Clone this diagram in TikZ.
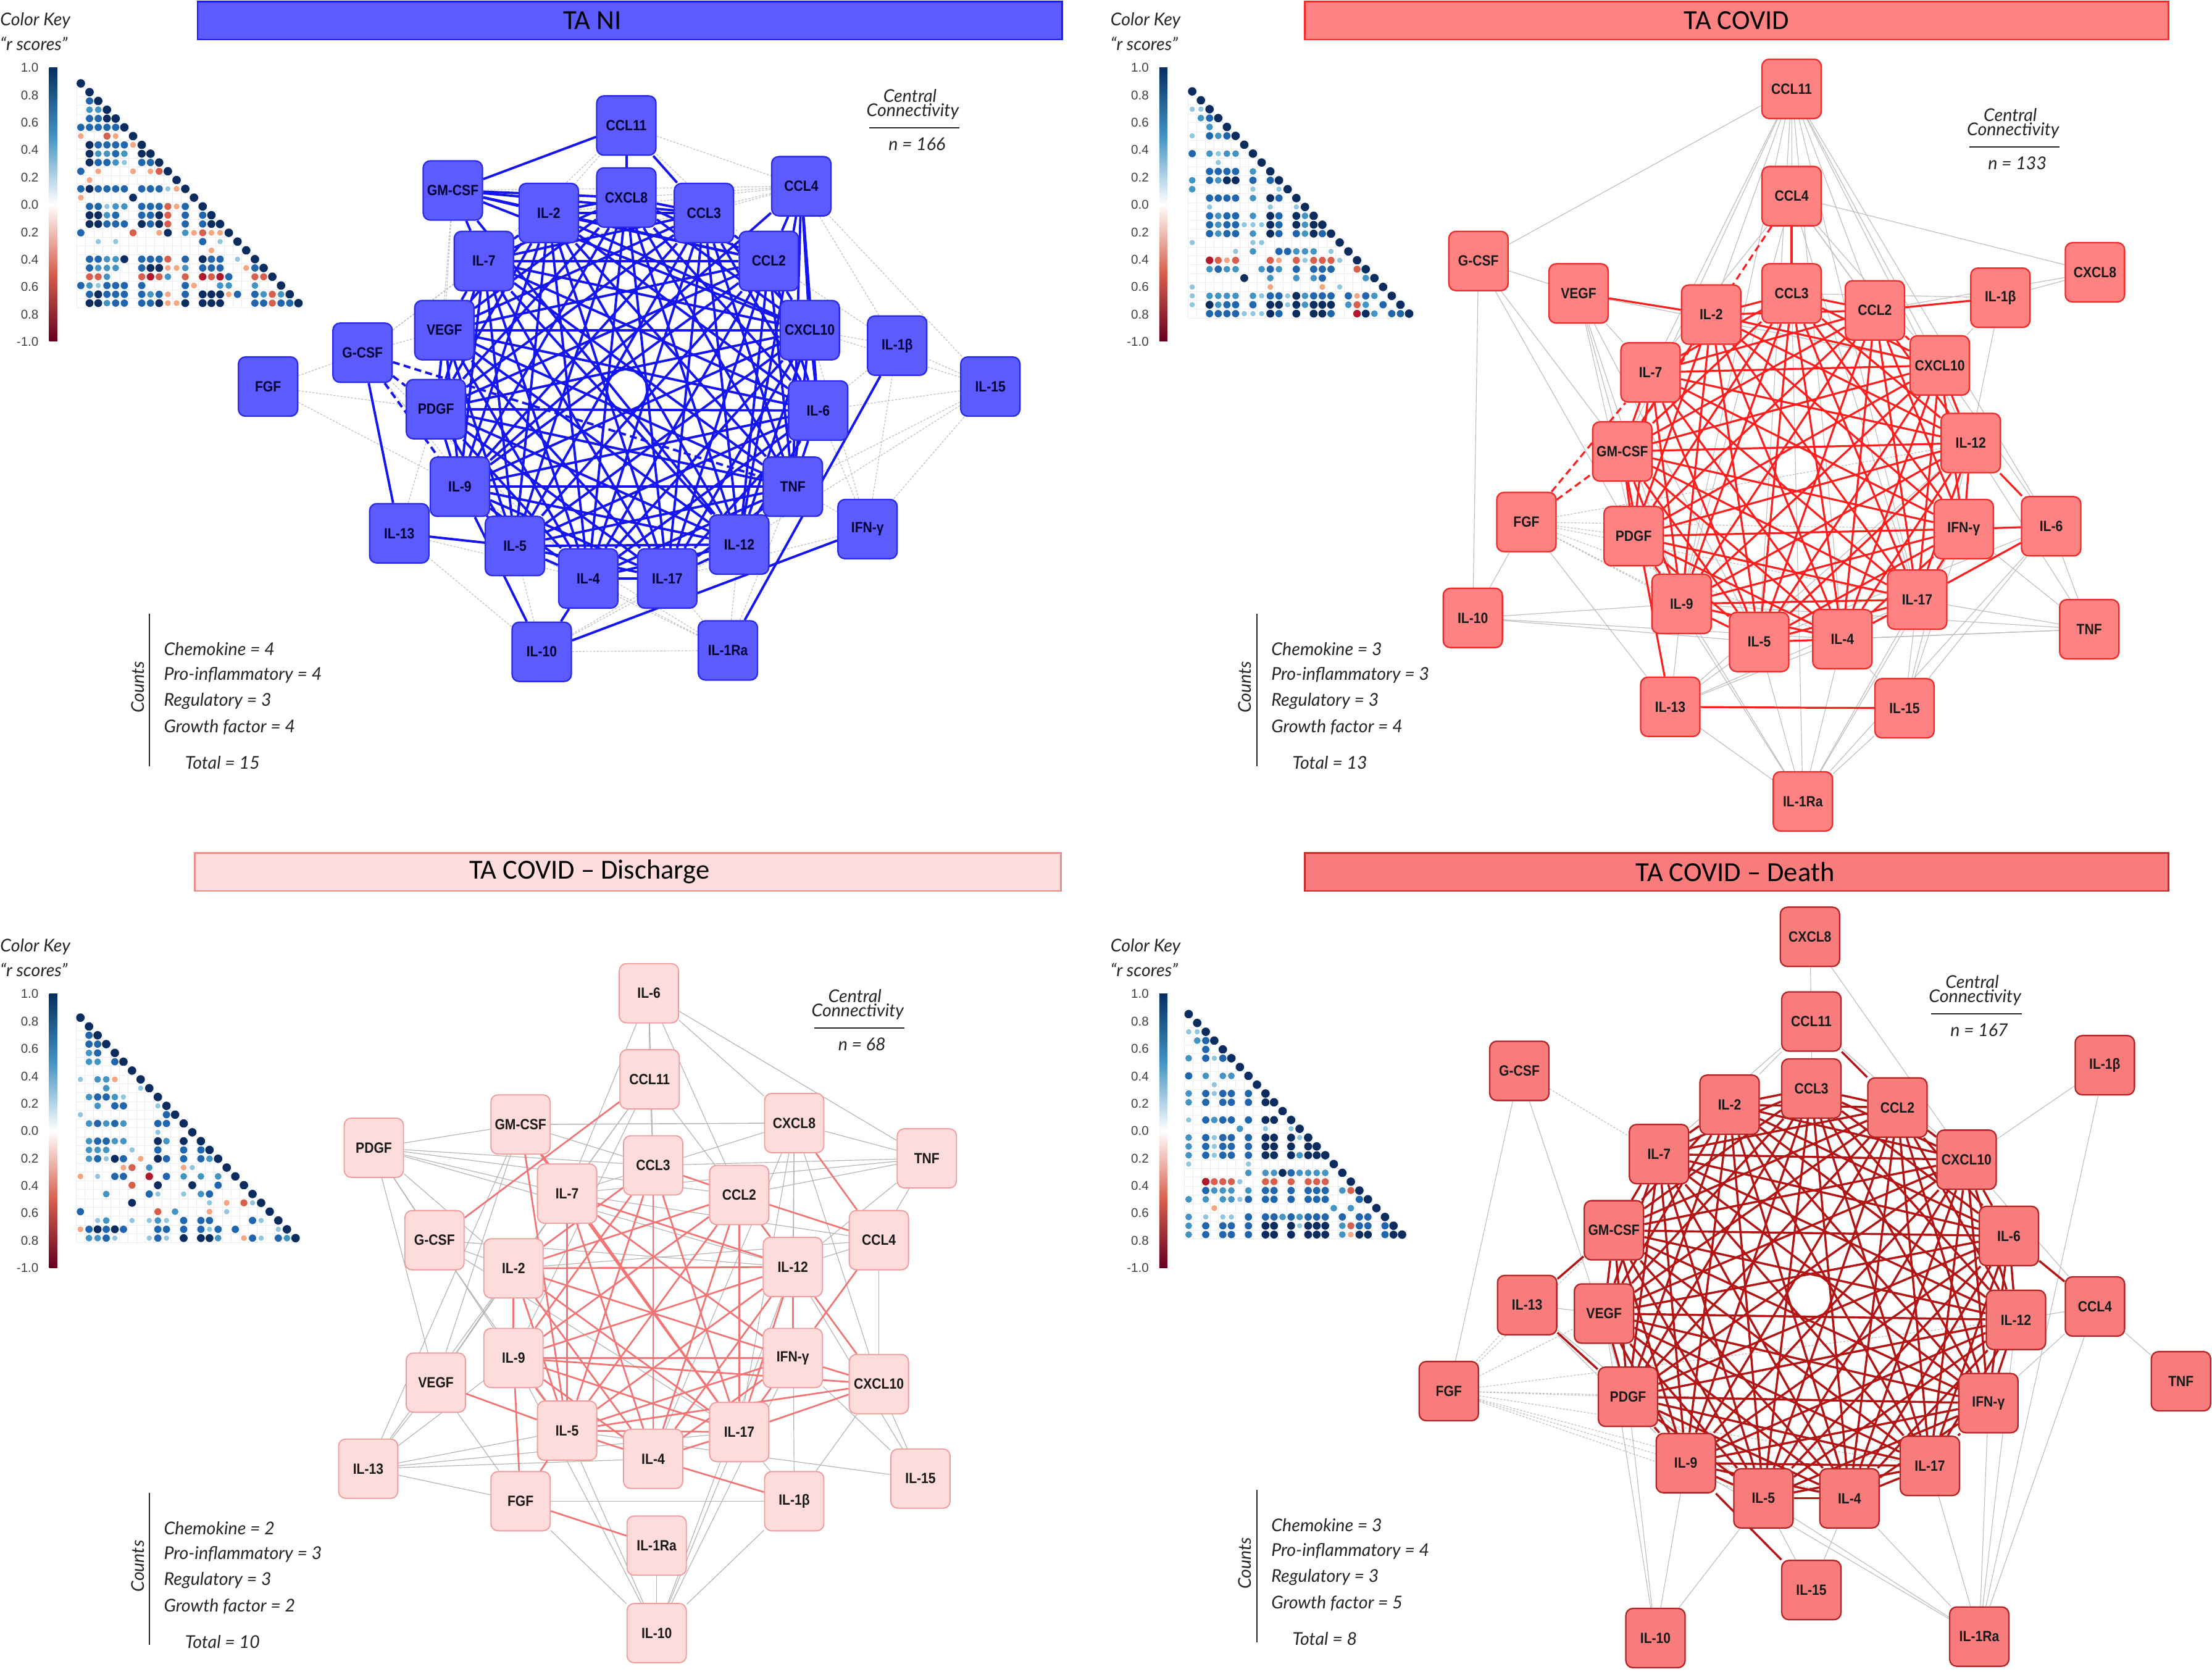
\documentclass[tikz,border=0pt]{standalone}
\usepackage{fontspec}
\setmainfont{Liberation Sans}
\newfontfamily\annfont{Lato}
\newfontfamily\nodefont{Liberation Sans}[FakeStretch=0.88]
\newfontfamily\titlefont{Carlito}
\pgfdeclarelayer{bgl}
\pgfdeclarelayer{greyl}
\pgfdeclarelayer{coll}
\pgfsetlayers{bgl,greyl,coll,main}
\definecolor{niFill}{HTML}{5B5BFF}
\definecolor{niDraw}{HTML}{2A2AE8}
\definecolor{niEdge}{HTML}{1515F2}
\definecolor{niBar}{HTML}{1A1AFF}
\definecolor{cvFill}{HTML}{FF8282}
\definecolor{cvDraw}{HTML}{EE2A2A}
\definecolor{cvEdge}{HTML}{FF1E1E}
\definecolor{cvBar}{HTML}{FF2B2B}
\definecolor{dsFill}{HTML}{FFDCDC}
\definecolor{dsDraw}{HTML}{F29A9A}
\definecolor{dsEdge}{HTML}{F27474}
\definecolor{dsBar}{HTML}{EE8C8C}
\definecolor{dtFill}{HTML}{F87C7C}
\definecolor{dtDraw}{HTML}{B52424}
\definecolor{dtEdge}{HTML}{B31414}
\definecolor{dtBar}{HTML}{C62A2A}
\definecolor{greyE}{HTML}{BDBDBD}
\definecolor{kTop}{HTML}{053061}
\definecolor{kBot}{HTML}{67001F}
\definecolor{cD}{HTML}{0A2C5E}
\definecolor{cB}{HTML}{2166AC}
\definecolor{cM}{HTML}{4393C3}
\definecolor{cL}{HTML}{92C5DE}
\definecolor{cO}{HTML}{F4A582}
\definecolor{cR}{HTML}{D6604D}
\definecolor{cK}{HTML}{B2182B}
\def\radD{2.8}\def\radB{2.6}\def\radM{2.4}\def\radL{1.9}\def\radO{2.1}\def\radR{2.5}\def\radK{2.7}
\makeatletter
\newcommand\mrow[2]{%
  \def\mr@row{#1}\def\mr@col{0}%
  \mr@next#2\@nil
  \pgfmathsetmacro\mr@x{\kx+\mr@row*\kdx}%
  \pgfmathsetmacro\mr@y{\ky+\mr@row*\kdy}%
  \draw[cellgrid] (\mr@x-0.5*\kdx,\mr@y-0.5*\kdy) rectangle ++(\kdx,\kdy);%
  \fill[cD] (\mr@x,\mr@y) circle[radius=3.0];}
\def\mr@next#1{\ifx#1\@nil\expandafter\@gobble\else\expandafter\@firstofone\fi{\mr@dot{#1}\mr@next}}
\def\mr@dot#1{%
  \pgfmathsetmacro\mr@x{\kx+\mr@col*\kdx}%
  \pgfmathsetmacro\mr@y{\ky+\mr@row*\kdy}%
  \draw[cellgrid] (\mr@x-0.5*\kdx,\mr@y-0.5*\kdy) rectangle ++(\kdx,\kdy);%
  \if#1.\else\fill[c#1] (\mr@x,\mr@y) circle[radius=\csname rad#1\endcsname];\fi
  \pgfmathtruncatemacro\mr@col{\mr@col+1}}
\makeatother
\tikzset{
 cyto/.style={rectangle, rounded corners=5pt, minimum width=42pt, minimum height=42pt, inner sep=0pt, line width=1pt, font=\nodefont\fontsize{10.5}{11}\selectfont\bfseries},
 nA/.style={cyto, fill=niFill, draw=niDraw, text=black!80!blue},
 nB/.style={cyto, fill=cvFill, draw=cvDraw, text=black!90},
 nC/.style={cyto, fill=dsFill, draw=dsDraw, line width=0.8pt, text=black!90},
 nD/.style={cyto, fill=dtFill, draw=dtDraw, text=black!90},
 eA/.style={draw=niEdge, line width=1.7pt},
 eB/.style={draw=cvEdge, line width=1.4pt},
 eC/.style={draw=dsEdge, line width=1.2pt},
 eD/.style={draw=dtEdge, line width=1.5pt},
 gE/.style={draw=greyE, line width=0.5pt},
 gdot/.style={draw=greyE, line width=0.5pt, dash pattern=on 1.5pt off 1pt},
 titlebar/.style={rectangle, minimum height=27pt, inner sep=0pt, line width=1.2pt},
 titletxt/.style={inner sep=0pt, font=\titlefont\fontsize{19.5}{21}\selectfont},
 ann/.style={font=\annfont\itshape\fontsize{12.5}{14}\selectfont, inner sep=0pt, text=black!85},
 annL/.style={ann, anchor=west},
 keytxt/.style={font=\annfont\itshape\fontsize{12.5}{14}\selectfont, inner sep=0pt, anchor=west, text=black!85},
 keynum/.style={font=\fontsize{9}{10}\selectfont, text=black!75, inner sep=0pt, anchor=east},
 cellgrid/.style={draw=black!7, line width=0.3pt},
}
\newcommand\ckey[7]{%
  \begin{scope}[shift={(#2,#3)}]
    \node[keytxt] (#1kt1) at (0,14.6) {Color Key};
    \node[keytxt] (#1kt2) at (0,30.8) {“r scores”};
    \shade[top color=kTop, bottom color=white, middle color=cM] (34.8,47.8) rectangle (40.6,145);
    \shade[top color=white, bottom color=kBot, middle color=cR] (34.8,145) rectangle (40.6,242);
    \foreach \t [count=\k from 0] in {1.0,0.8,0.6,0.4,0.2,0.0,0.2,0.4,0.6,0.8,-1.0}
      \node[keynum] (#1kn\k) at (27.5,{48+19.42*\k}) {\t};
  \end{scope}
  \def\kx{#4}\def\ky{#5}\def\kdx{#6}\def\kdy{#7}}
\newcommand\countsblock[8]{%
  \begin{scope}[shift={(#2,#3)}]
    \coordinate (#1ct) at (106,435);
    \coordinate (#1cb) at (106,543);
    \draw[line width=1pt, black!85] (#1ct) -- (#1cb);
    \node[ann, rotate=90] (#1cnt) at (97.5,487) {Counts};
    \node[annL] (#1c1) at (116,460) {Chemokine = #4};
    \node[annL] (#1c2) at (116,478.5) {Pro-inflammatory = #5};
    \node[annL] (#1c3) at (116,497) {Regulatory = #6};
    \node[annL] (#1c4) at (116,515.5) {Growth factor = #7};
    \node[annL] (#1c5) at (131,540.5) {Total = #8};
  \end{scope}}
\newcommand\centralc[4]{%
  \node[ann] (#1cc1) at (#2,#3) {Central};
  \node[ann] (#1cc2) at ({#2+2},{#3+11}) {Connectivity};
  \coordinate (#1ccl) at ({#2-29},{#3+22.5});
  \coordinate (#1ccr) at ({#2+35},{#3+22.5});
  \draw[line width=1pt, black!85] (#1ccl) -- (#1ccr);
  \node[ann] (#1cc3) at ({#2+5},{#3+34}) {n = #4};}
\begin{document}
\begin{tikzpicture}[x=1pt,y=-1pt]
\begin{pgfonlayer}{bgl}
\fill[white] (0,0) rectangle (1568,1185);
\end{pgfonlayer}
\useasboundingbox (0,0) rectangle (1568,1185);

% ---------- title bars
\node[titlebar, fill=niFill, draw=niBar, minimum width=613pt] (tA) at (446.5,14.5) {};
\node[titlebar, fill=cvFill, draw=cvBar, minimum width=612pt] (tB) at (1231,14.5) {};
\node[titlebar, fill=dsFill, draw=dsBar, minimum width=614pt] (tC) at (445,618) {};
\node[titlebar, fill=dtFill, draw=dtBar, minimum width=612pt] (tD) at (1231,618) {};
\node[titletxt] (tAt) at (420,14.5) {TA NI};
\node[titletxt] (tBt) at (1231,14.5) {TA COVID};
\node[titletxt] (tCt) at (418,618) {TA COVID – Discharge};
\node[titletxt] (tDt) at (1230,618) {TA COVID – Death};

% ---------- colour keys
\ckey{A}{0}{0}{57.3}{59.1}{6.17}{6.23}
\mrow{0}{}\mrow{1}{.}\mrow{2}{.B}\mrow{3}{.MM}\mrow{4}{.BBD}\mrow{5}{BBBBB}
\mrow{6}{O..RO.}\mrow{7}{.DBBBBO}\mrow{8}{.DMMBM.D}\mrow{9}{.DBBML.BB}
\mrow{10}{B.O...O.OR}\mrow{11}{.O.........}\mrow{12}{BDBBBB.BBBLO}
\mrow{13}{O.....D......}\mrow{14}{.BBLMM.BBBROB.}\mrow{15}{.DDMB..BBDR.B.B}
\mrow{16}{.DDBBB.DBDR.B.BD}\mrow{17}{B.....R..OD.MOROO}\mrow{18}{..L.L.........B.L.}
\mrow{19}{...............O...}\mrow{20}{.BBMMD.BBBR.B.DBB.L.}
\mrow{21}{.BMMM..BDDOOM.BBB..OB}\mrow{22}{.RRM...RKRM.R.KRKB..RR}
\mrow{23}{BMLBBB.B....BO..MM..M..}\mrow{24}{.BDBBB.BMBO.B.DDDOB.BMRM}
\mrow{25}{.DDMBB.BBDOOD.DDD...BBRBB}

\ckey{B}{787}{0}{845.1}{64.8}{6.15}{6.3}
\mrow{0}{}\mrow{1}{.}\mrow{2}{LL}\mrow{3}{.MB}\mrow{4}{..M.}\mrow{5}{L.BMB}
\mrow{6}{......}\mrow{7}{B.MLMM.}\mrow{8}{...L....}\mrow{9}{..BBBB.M.}
\mrow{10}{M.BMDD.B.B}\mrow{11}{M......L..L}\mrow{12}{..BBBB.M.DB.}
\mrow{13}{..L......L..L}\mrow{14}{..BMBB.M.DB.DM}\mrow{15}{..BMBBLLLDB.DMD}
\mrow{16}{..BMBB.M.DB.BMDB}\mrow{17}{L......LL........}\mrow{18}{.....L.M..BBMMM.L.}
\mrow{19}{..KROR...RO.RLRRRL.}\mrow{20}{..MBMM..MBM.B.BBB..R}
\mrow{21}{......D..M..M.MB....M}\mrow{22}{L........O.....O.L....}
\mrow{23}{L.MMMM.MLBBLDMBBB.BOBM.}\mrow{24}{L.DMBB.B.DDLDMDDD.MRM.B.}
\mrow{25}{..BBBBLLLDB.D.DDB..KDM.BB}

\ckey{C}{0}{656.5}{57}{721.3}{6.1}{6.25}
\mrow{0}{}\mrow{1}{.}\mrow{2}{.B}\mrow{3}{.BB}\mrow{4}{.MB.}\mrow{5}{.MM.B}
\mrow{6}{......}\mrow{7}{L.MMO..}\mrow{8}{...M...L}\mrow{9}{.MBBML...}
\mrow{10}{..M.BB...L}\mrow{11}{L.........B}\mrow{12}{.MBMBM...BB.}
\mrow{13}{.........L...}\mrow{14}{.MBBMM...DM.D.}\mrow{15}{.MMM..L..B..B.B}
\mrow{16}{.MBLDB.O.DB.B.BM}\mrow{17}{.....OR.M...OL...}\mrow{18}{O.L.BB..K.B.M.M.M.}
\mrow{19}{......R..D...D..B..}\mrow{20}{...M....BL..L.MB....}
\mrow{21}{......D........L.O.RL}\mrow{22}{B........R.M...O.L....}
\mrow{23}{..LM..L.LML.B.BB....BL.}\mrow{24}{OBDBDB...BB.B.BLB.B....L}
\mrow{25}{.MMBL...LBL.D.DDM..OBL.BM}

\ckey{D}{787}{656.5}{842.6}{718.8}{6.05}{6.25}
\mrow{0}{}\mrow{1}{.}\mrow{2}{LL}\mrow{3}{.MB}\mrow{4}{..B.}\mrow{5}{M.BLB}
\mrow{6}{......}\mrow{7}{B.M.MM.}\mrow{8}{...L....}\mrow{9}{M.BLBB.B.}
\mrow{10}{M.B.BB.B.D}\mrow{11}{...........}\mrow{12}{L.BMBB.B.DD.}
\mrow{13}{......M..L..L}\mrow{14}{M.BLBB.B.DD.DL}\mrow{15}{M.BLBB.B.DD.D.D}
\mrow{16}{M.BLBB.B.DD.DMDD}\mrow{17}{L......L.........}\mrow{18}{.......M.MMDBMMMM.}
\mrow{19}{..KRRRL..RR.R.RRR..}\mrow{20}{..BMMM.M.BB.B.BBB.MR}
\mrow{21}{M.M.MMLB.BB.B.BBB...B}\mrow{22}{...O.............M.M..}
\mrow{23}{M.L.LL.B.BBMBMBBB.B.BB.}\mrow{24}{M.B.BB.B.DD.DLDDD.MRBB.B}
\mrow{25}{M.B.BB.B.DD.D.DDD.MODD.BD}

% ---------- counts and central connectivity
\countsblock{A}{0}{0}{4}{4}{3}{4}{15}
\countsblock{B}{785}{0}{3}{3}{3}{4}{13}
\countsblock{C}{0}{623}{2}{3}{3}{2}{10}
\countsblock{D}{785}{621}{3}{4}{3}{5}{8}
\centralc{A}{645}{68}{166}
\centralc{B}{1425}{81.5}{133}
\centralc{C}{606}{706}{68}
\centralc{D}{1398}{696}{167}

% ================= PANEL A : TA NI
\node[nA] (aCCL11) at (444,89) {CCL11};
\node[nA] (aGMCSF) at (321,135) {GM-CSF};
\node[nA] (aIL2) at (389,151) {IL-2};
\node[nA] (aCXCL8) at (444,140) {CXCL8};
\node[nA] (aCCL3) at (499,151) {CCL3};
\node[nA] (aCCL4) at (568,132) {CCL4};
\node[nA] (aIL7) at (343,185) {IL-7};
\node[nA] (aCCL2) at (545,185) {CCL2};
\node[nA] (aVEGF) at (315,234) {VEGF};
\node[nA] (aCXCL10) at (574,234) {CXCL10};
\node[nA] (aGCSF) at (257,250) {G-CSF};
\node[nA] (aIL1b) at (636,245) {IL-1β};
\node[nA] (aFGF) at (190,274) {FGF};
\node[nA] (aIL15) at (702,274) {IL-15};
\node[nA] (aPDGF) at (309,290) {PDGF};
\node[nA] (aIL6) at (580,291) {IL-6};
\node[nA] (aIL9) at (326,345) {IL-9};
\node[nA] (aTNF) at (562,345) {TNF};
\node[nA] (aIL13) at (283,378) {IL-13};
\node[nA] (aIFNg) at (615,375) {IFN-γ};
\node[nA] (aIL5) at (365,387) {IL-5};
\node[nA] (aIL12) at (524,386) {IL-12};
\node[nA] (aIL4) at (417,410) {IL-4};
\node[nA] (aIL17) at (473,410) {IL-17};
\node[nA] (aIL10) at (384,462) {IL-10};
\node[nA] (aIL1Ra) at (516,461) {IL-1Ra};

% ================= PANEL B : TA COVID
\node[nB] (bCCL11) at (1270,63) {CCL11};
\node[nB] (bCCL4) at (1270,139) {CCL4};
\node[nB] (bGCSF) at (1048,185) {G-CSF};
\node[nB] (bVEGF) at (1119,208) {VEGF};
\node[nB] (bCCL3) at (1270,208) {CCL3};
\node[nB] (bIL2) at (1213,223) {IL-2};
\node[nB] (bCCL2) at (1329,220) {CCL2};
\node[nB] (bIL1b) at (1418,211) {IL-1β};
\node[nB] (bCXCL8) at (1485,193) {CXCL8};
\node[nB] (bIL7) at (1170,264) {IL-7};
\node[nB] (bCXCL10) at (1375,259) {CXCL10};
\node[nB] (bGMCSF) at (1150,320) {GM-CSF};
\node[nB] (bIL12) at (1397,314) {IL-12};
\node[nB] (bFGF) at (1082,370) {FGF};
\node[nB] (bPDGF) at (1158,380) {PDGF};
\node[nB] (bIFNg) at (1392,375) {IFN-γ};
\node[nB] (bIL6) at (1454,373) {IL-6};
\node[nB] (bIL10) at (1044,438) {IL-10};
\node[nB] (bIL9) at (1192,428) {IL-9};
\node[nB] (bIL5) at (1247,455) {IL-5};
\node[nB] (bIL4) at (1306,453) {IL-4};
\node[nB] (bIL17) at (1359,425) {IL-17};
\node[nB] (bTNF) at (1481,446) {TNF};
\node[nB] (bIL13) at (1184,501) {IL-13};
\node[nB] (bIL15) at (1350,502) {IL-15};
\node[nB] (bIL1Ra) at (1278,568) {IL-1Ra};

% ================= PANEL C : Discharge
\node[nC] (cIL6) at (460,704) {IL-6};
\node[nC] (cCCL11) at (460.5,765) {CCL11};
\node[nC] (cGMCSF) at (369,797) {GM-CSF};
\node[nC] (cCXCL8) at (563,796) {CXCL8};
\node[nC] (cPDGF) at (265,813.5) {PDGF};
\node[nC] (cTNF) at (657,821) {TNF};
\node[nC] (cCCL3) at (463,826) {CCL3};
\node[nC] (cIL7) at (402,846) {IL-7};
\node[nC] (cCCL2) at (524,847) {CCL2};
\node[nC] (cGCSF) at (308,879) {G-CSF};
\node[nC] (cCCL4) at (623,879) {CCL4};
\node[nC] (cIL2) at (364,899) {IL-2};
\node[nC] (cIL12) at (562,898) {IL-12};
\node[nC] (cIL9) at (364,962.5) {IL-9};
\node[nC] (cIFNg) at (562,962.5) {IFN-γ};
\node[nC] (cVEGF) at (309,980) {VEGF};
\node[nC] (cCXCL10) at (623,981) {CXCL10};
\node[nC] (cIL5) at (402,1014) {IL-5};
\node[nC] (cIL17) at (524,1015) {IL-17};
\node[nC] (cIL4) at (463,1034) {IL-4};
\node[nC] (cIL13) at (261,1041) {IL-13};
\node[nC] (cIL15) at (652.5,1048) {IL-15};
\node[nC] (cFGF) at (369,1064) {FGF};
\node[nC] (cIL1b) at (563,1064) {IL-1β};
\node[nC] (cIL1Ra) at (465.5,1095.5) {IL-1Ra};
\node[nC] (cIL10) at (465.5,1157.5) {IL-10};

% ================= PANEL D : Death
\node[nD] (dCXCL8) at (1283,664) {CXCL8};
\node[nD] (dCCL11) at (1284,724) {CCL11};
\node[nD] (dGCSF) at (1077,759) {G-CSF};
\node[nD] (dIL1b) at (1492,755) {IL-1β};
\node[nD] (dCCL3) at (1284,771.5) {CCL3};
\node[nD] (dIL2) at (1226,783) {IL-2};
\node[nD] (dCCL2) at (1345,785) {CCL2};
\node[nD] (dIL7) at (1176,818) {IL-7};
\node[nD] (dCXCL10) at (1394,822) {CXCL10};
\node[nD] (dGMCSF) at (1144,872) {GM-CSF};
\node[nD] (dIL6) at (1424,876) {IL-6};
\node[nD] (dIL13) at (1082.5,925) {IL-13};
\node[nD] (dVEGF) at (1137,931) {VEGF};
\node[nD] (dCCL4) at (1485,926) {CCL4};
\node[nD] (dIL12) at (1429,935.5) {IL-12};
\node[nD] (dTNF) at (1546,979) {TNF};
\node[nD] (dFGF) at (1027,986) {FGF};
\node[nD] (dPDGF) at (1154,990) {PDGF};
\node[nD] (dIFNg) at (1409.5,994.5) {IFN-γ};
\node[nD] (dIL9) at (1195,1037) {IL-9};
\node[nD] (dIL17) at (1368,1039) {IL-17};
\node[nD] (dIL5) at (1250,1062) {IL-5};
\node[nD] (dIL4) at (1311,1062) {IL-4};
\node[nD] (dIL15) at (1284,1127) {IL-15};
\node[nD] (dIL10) at (1173.5,1161) {IL-10};
\node[nD] (dIL1Ra) at (1403,1160) {IL-1Ra};

% ================= coloured edges
\def\coreA{aCXCL8,aCCL3,aCCL2,aCXCL10,aIL6,aTNF,aIL12,aIL17,aIL4,aIL5,aIL9,aPDGF,aVEGF,aIL7,aIL2}
\def\coreB{bCCL3,bCCL2,bCXCL10,bIL12,bIFNg,bIL17,bIL4,bIL5,bIL9,bPDGF,bGMCSF,bIL7,bIL2}
\def\coreD{dCCL3,dCCL2,dCXCL10,dIL6,dIL12,dIFNg,dIL17,dIL4,dIL5,dIL9,dPDGF,dVEGF,dGMCSF,dIL7,dIL2}
\begin{pgfonlayer}{coll}
\foreach \u [count=\i] in \coreA {\foreach \v [count=\j] in \coreA {\ifnum\j>\i \draw[eA] (\u) -- (\v);\fi}}
\foreach \u/\v in {aCCL11/aGMCSF,aCCL11/aCXCL8,aCCL11/aCCL3,aIL13/aGCSF,aIL13/aIL5,aIL10/aIL9,aIL10/aIL4,aIL10/aIFNg,aIL1Ra/aIL1b,
  aGMCSF/aIL2,aGMCSF/aCXCL8,aGMCSF/aCCL3,aGMCSF/aCCL2,aGMCSF/aIL7,aGMCSF/aCXCL10,aGMCSF/aIL12,
  aCCL4/aCCL2,aCCL4/aCXCL10,aCCL4/aIL6,aCCL4/aTNF,aCCL4/aIL12,aCCL4/aIL9}
  \draw[eA] (\u) -- (\v);
\foreach \u/\v in {aGCSF/aPDGF,aGCSF/aIL9,aGCSF/aTNF}
  \draw[eA, dash pattern=on 5pt off 3pt] (\u) -- (\v);

\foreach \u [count=\i] in \coreB {\foreach \v [count=\j] in \coreB {\ifnum\j>\i \draw[eB] (\u) -- (\v);\fi}}
\foreach \u/\v in {bCCL4/bCCL3,bVEGF/bIL2,bCCL2/bIL1b,bIL6/bIFNg,bIL6/bIL12,bIL6/bIL17,bIL13/bIL15,bIL13/bGMCSF}
  \draw[eB] (\u) -- (\v);
\foreach \u/\v in {bCCL4/bGMCSF,bFGF/bIL7,bFGF/bGMCSF}
  \draw[eB, dash pattern=on 5pt off 3pt] (\u) -- (\v);

\foreach \u/\v in {cCCL11/cGCSF,cGMCSF/cIL5,cGMCSF/cIL17,cGMCSF/cIL7,cIL7/cIL17,cIL7/cIL4,cIL7/cIL5,cIL7/cIL12,cIL7/cIFNg,
  cCCL3/cIL4,cCCL3/cCCL2,cCCL3/cIL17,cCCL3/cIL9,cCCL3/cIL2,cCCL3/cIL5,cCCL2/cIL2,cCCL2/cIL9,cCCL2/cIL17,cCCL2/cIL4,
  cCCL2/cCCL4,cCCL2/cIL12,cCCL2/cIL5,cCXCL8/cCCL4,cCCL4/cIFNg,cIL12/cCXCL10,cIL12/cIL2,cIL12/cIL9,cIL12/cIL5,cIL12/cIL4,
  cIL12/cIL17,cIL12/cIFNg,cIFNg/cIL2,cIFNg/cIL9,cIFNg/cIL5,cIFNg/cIL4,cIFNg/cIL17,cIFNg/cCXCL10,cCXCL10/cIL9,cCXCL10/cIL17,
  cCXCL10/cIL5,cIL2/cIL9,cIL2/cIL17,cIL2/cIL4,cIL2/cIL5,cIL9/cIL5,cIL9/cIL17,cIL9/cIL4,cIL9/cFGF,cVEGF/cIL5,cIL5/cFGF,
  cIL5/cIL4,cIL5/cIL17,cIL4/cIL17,cIL4/cIL1b,cFGF/cIL1Ra}
  \draw[eC] (\u) -- (\v);

\foreach \u [count=\i] in \coreD {\foreach \v [count=\j] in \coreD {\ifnum\j>\i \draw[eD] (\u) -- (\v);\fi}}
\foreach \u/\v in {dCCL11/dCCL2,dIL13/dGMCSF,dIL13/dPDGF,dCCL4/dIL6,dIL15/dIL9}
  \draw[eD] (\u) -- (\v);
\end{pgfonlayer}

% ================= grey edges
\begin{pgfonlayer}{greyl}
\foreach \u/\v in {aFGF/aGCSF,aFGF/aIL9,aFGF/aPDGF,aIL15/aIL1b,aIL15/aCXCL10,aIL15/aIL6,aIL15/aTNF,aIL15/aIL12,aIL15/aIFNg,
  aIL15/aCCL4,aIFNg/aCXCL10,aIFNg/aIL6,aIFNg/aTNF,aIFNg/aIL1b,aIFNg/aIL17,aIL1b/aCCL4,aIL1b/aCCL2,aIL1b/aIL6,aIL1b/aCXCL10,
  aCCL11/aCCL2,aCCL11/aCCL4,aCCL11/aIL7,aCCL11/aIL2,aGCSF/aVEGF,aGCSF/aIL7,aGCSF/aIL2,aGCSF/aIL5,aGCSF/aIL4,aIL13/aIL9,
  aIL13/aPDGF,aIL13/aIL4,aIL10/aIL5,aIL10/aIL13,aIL10/aIL17,aIL10/aIL12,aIL10/aIL1Ra,aIL1Ra/aIL4,aIL1Ra/aIL17,aIL1Ra/aIL12,
  aIL1Ra/aIL5,aIL1Ra/aTNF,aIL1Ra/aIL9,aCCL4/aCXCL8,aGMCSF/aCCL4,aCCL4/aCCL3,aCCL4/aIL2,aVEGF/aCCL2,aPDGF/aIL6,aIL9/aTNF,
  aGMCSF/aVEGF,aGMCSF/aPDGF,aCCL4/aIL7}
  \draw[gdot] (\u) -- (\v);
\foreach \u/\v in {bCCL11/bGCSF,bCCL11/bIL7,bCCL11/bIL2,bCCL11/bCCL3,bCCL11/bCCL2,bCCL11/bCXCL10,bCCL11/bIL12,bCCL11/bIL6,
  bCCL11/bIL9,bCCL11/bIL5,bCCL11/bIL4,bCCL11/bIL17,bCCL11/bGMCSF,bCCL4/bCXCL8,bCCL4/bCCL2,bCCL4/bCXCL10,bCCL4/bIL7,
  bCCL4/bIL12,bCCL4/bIL17,bCCL4/bIL9,bGCSF/bIL10,bGCSF/bVEGF,bGCSF/bGMCSF,bGCSF/bPDGF,bFGF/bIL10,bFGF/bIL13,
  bIL10/bIL9,bIL10/bIL5,bIL10/bIL4,bVEGF/bIL9,bVEGF/bIL5,bVEGF/bIL7,bVEGF/bGMCSF,bVEGF/bPDGF,bVEGF/bCXCL10,bTNF/bIL6,
  bTNF/bIL17,bTNF/bIL4,bTNF/bIFNg,bTNF/bIL12,bTNF/bIL5,bTNF/bIL9,bIL1Ra/bIL13,bIL1Ra/bIL9,bIL1Ra/bIL5,bIL1Ra/bIL4,
  bIL1Ra/bIL17,bIL1Ra/bIL15,bIL1Ra/bPDGF,bIL1Ra/bIFNg,bIL1Ra/bCCL3,bIL1Ra/bIL6,bIL15/bIL6,bIL15/bIL4,bIL15/bIL17,
  bIL15/bIFNg,bIL15/bIL12,bIL13/bIL5,bIL13/bIL4,bIL13/bIL12,bIL13/bIL9,bIL13/bIL17,bCXCL8/bIL1b,bCXCL8/bCCL2,
  bIL1b/bCXCL10,bIL1b/bIL12,bIL1b/bCCL3,bIL6/bCXCL10,bIL6/bIL4,bIL6/bIL5}
  \draw[gE] (\u) -- (\v);
\foreach \u/\v in {bFGF/bPDGF,bFGF/bIL9,bFGF/bIL5,bFGF/bIL12,bFGF/bIFNg,bFGF/bIL17,bFGF/bIL4}
  \draw[gdot] (\u) -- (\v);
\foreach \u/\v in {cPDGF/cGMCSF,cPDGF/cIL7,cPDGF/cCCL3,cPDGF/cCCL2,cPDGF/cGCSF,cPDGF/cIL2,cPDGF/cVEGF,cPDGF/cIL9,cPDGF/cIL12,
  cIL6/cCCL11,cIL6/cTNF,cIL6/cCXCL8,cIL6/cIL7,cIL6/cCCL3,cIL6/cCCL2,cTNF/cCXCL8,cTNF/cCCL2,cTNF/cCCL3,cTNF/cCCL4,
  cTNF/cIL12,cTNF/cIL7,cIL13/cVEGF,cIL13/cIL9,cIL13/cIL5,cIL13/cIL4,cIL13/cIL17,cIL13/cIL2,cIL13/cFGF,cIL10/cIL1Ra,
  cIL10/cFGF,cIL10/cIL5,cIL10/cIL17,cIL10/cIL1b,cIL10/cIL12,cIL10/cIFNg,cIL10/cIL9,cIL15/cCXCL10,cIL15/cIL12,
  cIL15/cIFNg,cIL15/cIL5,cCCL4/cIL12,cCCL4/cIL2,cCCL4/cIL7,cCCL4/cCXCL10,cCXCL8/cIL12,cCXCL8/cIFNg,cCXCL8/cCXCL10,
  cCXCL8/cIL7,cCXCL8/cGMCSF,cCXCL8/cIL17,cCXCL8/cIL4,cCCL11/cIL2,cCCL11/cCCL3,cCCL11/cIL12,cCCL11/cIL9,cCCL11/cIL7,
  cGCSF/cIL2,cGCSF/cIL5,cGCSF/cIL17,cGCSF/cIL12,cGMCSF/cVEGF,cGMCSF/cCCL3,cGMCSF/cIL13,cGMCSF/cCXCL8,cVEGF/cIL7,
  cVEGF/cIL2,cVEGF/cFGF,cFGF/cIL1b,cIL1b/cIL12,cIL1b/cIL17,cIL1b/cCXCL10}
  \draw[gE, draw=black!30] (\u) -- (\v);
\foreach \u/\v in {dCXCL8/dCCL11,dCXCL8/dCXCL10,dGCSF/dFGF,dGCSF/dPDGF,dIL1b/dCXCL10,dIL1b/dIL1Ra,
  dTNF/dCCL4,dCCL4/dIL12,dCCL4/dIFNg,dCCL4/dIL1Ra,dCCL4/dCXCL10,dIL10/dIL5,dIL10/dIL9,dIL10/dPDGF,dIL10/dVEGF,
  dIL1Ra/dIL5,dIL1Ra/dIL4,dIL1Ra/dIL17,dIL1Ra/dIFNg,dIL1Ra/dIL12,dIL1Ra/dIL9,dIL15/dIL5,dIL15/dIL4,dCCL11/dIL2,
  dCCL11/dIL7,dCCL11/dCXCL10,dCCL11/dCCL3,dIL13/dVEGF,dIL13/dIL9,dIL13/dIL5}
  \draw[gE] (\u) -- (\v);
\foreach \u/\v in {dGCSF/dIL7,dFGF/dIL9,dFGF/dIL5,dFGF/dPDGF,dFGF/dGMCSF,dFGF/dVEGF,dFGF/dIL12,dFGF/dIFNg,dFGF/dIL17,
  dFGF/dIL4,dFGF/dIL13}
  \draw[gdot] (\u) -- (\v);
\end{pgfonlayer}
\end{tikzpicture}
\end{document}
